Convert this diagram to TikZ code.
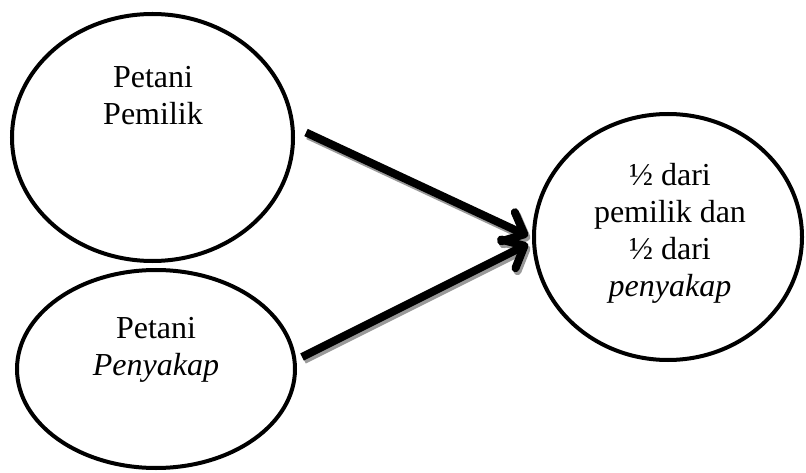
\documentclass[tikz,border=0pt]{standalone}
\usepackage{fontspec}
\setmainfont{Liberation Serif}
\usetikzlibrary{arrows.meta, shapes}

\begin{document}
\begin{tikzpicture}[x=1pt,y=-1pt]
\useasboundingbox (0,0) rectangle (806,473);
%\tikzstyle{circ}=[ellipse,draw,line width=4pt]
\begin{scope}[every node/.style={ellipse,draw,line width=4pt,inner sep=0pt}]
    \node[minimum width=281pt,minimum height=247pt] (owner) at (152.5,137.5) {};
    \node[minimum width=278pt,minimum height=198pt] (renter) at (156,369) {};
    \node[minimum width=268pt,minimum height=246pt] (share) at (668,237) {};
\end{scope}

\begin{scope}[every node/.style={align=center,inner sep=0pt,font=\fontsize{32}{37}\selectfont}]
    \node (ownerT) at (153,96) {Petani\\Pemilik};
    \node (renterT) at (156,350) {Petani\\\textit{Penyakap}};
    \node (shareT) at (670,233) {½ dari\\pemilik dan\\½ dari\\\textit{penyakap}};
\end{scope}

% shadow of the arrows
\begin{scope}[>={Straight Barb[length=18pt,width=32pt,round]},
              transform canvas={shift={(2pt,-3pt)}},
              every edge/.style={draw=black!40,line width=8pt}]
    \path [->] ([xshift=11pt,yshift=5pt]owner.east) edge ([xshift=-4pt,yshift=1pt]share.west);
    \path [->] ([xshift=5pt,yshift=12pt]renter.east) edge ([xshift=-4pt,yshift=-7pt]share.west);
\end{scope}

\begin{scope}[>={Straight Barb[length=18pt,width=32pt,round]},
              every edge/.style={draw=black,line width=8pt}]
    \path [->] ([xshift=11pt,yshift=5pt]owner.east) edge ([xshift=-4pt,yshift=1pt]share.west);
    \path [->] ([xshift=5pt,yshift=12pt]renter.east) edge ([xshift=-4pt,yshift=-7pt]share.west);
\end{scope}
\end{tikzpicture}
\end{document}
